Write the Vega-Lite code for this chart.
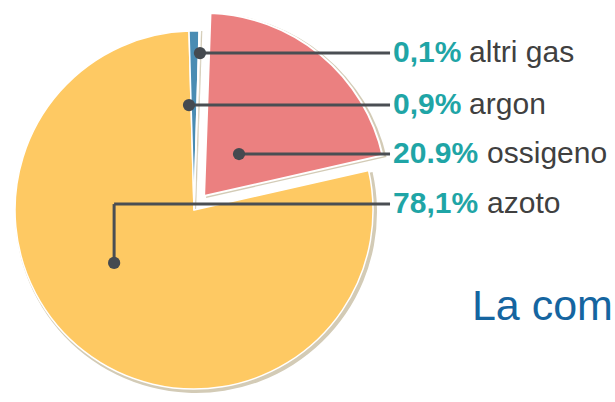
{
  "$schema": "https://vega.github.io/schema/vega-lite/v6.json",
  "width": 615,
  "height": 402,
  "padding": 0,
  "autosize": {"type": "none"},
  "background": "white",
  "config": {"view": {"stroke": null}},
  "datasets": {
    "gas": [
      {"name": "ossigeno", "value": 20.9, "ord": 1},
      {"name": "azoto", "value": 78.1, "ord": 2},
      {"name": "argon", "value": 0.9, "ord": 3},
      {"name": "altri gas", "value": 0.1, "ord": 4}
    ],
    "leaders": [
      {"name": "altri gas", "pct": "0,1%", "px": 3.3, "py": 87.2, "ry": 87.2},
      {"name": "argon", "pct": "0,9%", "px": -2.8, "py": 58.3, "ry": 58.3},
      {"name": "ossigeno", "pct": "20.9%", "px": 25.0, "py": 31.1, "ry": 31.1},
      {"name": "azoto", "pct": "78,1%", "px": -44.4, "py": -29.4, "ry": 3.3}
    ],
    "title": [{"text": "La composizione dell'aria"}]
  },
  "layer": [
    {
      "data": {"name": "gas"},
      "mark": {"type": "arc", "outerRadius": 181, "xOffset": 2, "yOffset": 2, "color": "#d3cbb6"},
      "encoding": {
        "theta": {"field": "value", "type": "quantitative", "stack": true, "scale": {"domain": [0, 100], "range": [0.035, 6.318]}},
        "order": {"field": "ord", "type": "quantitative"},
        "x": {"datum": 0, "type": "quantitative", "scale": {"domain": [-107.8, 233.9], "nice": false, "zero": false}, "axis": null},
        "y": {"datum": 0, "type": "quantitative", "scale": {"domain": [-106.7, 116.7], "nice": false, "zero": false}, "axis": null},
        "opacity": {"condition": {"test": "datum.name === 'ossigeno'", "value": 0}, "value": 1}
      }
    },
    {
      "data": {"name": "gas"},
      "mark": {"type": "arc", "outerRadius": 185, "xOffset": 2, "yOffset": 2, "color": "#d3cbb6"},
      "encoding": {
        "theta": {"field": "value", "type": "quantitative", "stack": true},
        "order": {"field": "ord", "type": "quantitative"},
        "x": {"datum": 5.6, "type": "quantitative"},
        "y": {"datum": 7.8, "type": "quantitative"},
        "opacity": {"condition": {"test": "datum.name === 'ossigeno'", "value": 1}, "value": 0}
      }
    },
    {
      "data": {"name": "gas"},
      "mark": {"type": "arc", "outerRadius": 179, "stroke": "white", "strokeWidth": 1.5},
      "encoding": {
        "theta": {"field": "value", "type": "quantitative", "stack": true},
        "order": {"field": "ord", "type": "quantitative"},
        "x": {"datum": 0, "type": "quantitative"},
        "y": {"datum": 0, "type": "quantitative"},
        "color": {"field": "name", "type": "nominal", "legend": null,
          "scale": {"domain": ["ossigeno", "azoto", "argon", "altri gas"], "range": ["#eb8080", "#fec963", "#4a8cb3", "#c5d66f"]}},
        "opacity": {"condition": {"test": "datum.name === 'ossigeno'", "value": 0}, "value": 1}
      }
    },
    {
      "data": {"name": "gas"},
      "mark": {"type": "arc", "outerRadius": 183, "stroke": "white", "strokeWidth": 2},
      "encoding": {
        "theta": {"field": "value", "type": "quantitative", "stack": true},
        "order": {"field": "ord", "type": "quantitative"},
        "x": {"datum": 5.6, "type": "quantitative"},
        "y": {"datum": 7.8, "type": "quantitative"},
        "color": {"field": "name", "type": "nominal", "legend": null},
        "opacity": {"condition": {"test": "datum.name === 'ossigeno'", "value": 1}, "value": 0}
      }
    },
    {
      "data": {"name": "leaders"},
      "mark": {"type": "rule", "color": "#4a4e53", "strokeWidth": 3},
      "encoding": {
        "x": {"field": "px", "type": "quantitative"},
        "x2": {"datum": 108.9},
        "y": {"field": "ry", "type": "quantitative"}
      }
    },
    {
      "data": {"name": "leaders"},
      "mark": {"type": "rule", "color": "#4a4e53", "strokeWidth": 3},
      "encoding": {
        "x": {"field": "px", "type": "quantitative"},
        "y": {"field": "py", "type": "quantitative"},
        "y2": {"field": "ry"}
      }
    },
    {
      "data": {"name": "leaders"},
      "mark": {"type": "point", "filled": true, "shape": "circle", "size": 150, "color": "#454a50", "opacity": 1},
      "encoding": {
        "x": {"field": "px", "type": "quantitative"},
        "y": {"field": "py", "type": "quantitative"}
      }
    },
    {
      "data": {"name": "leaders"},
      "mark": {"type": "text", "align": "left", "baseline": "middle", "font": "Liberation Sans", "fontSize": 30, "fontWeight": "bold", "color": "#1fa5a6"},
      "encoding": {
        "x": {"datum": 110.6},
        "y": {"field": "ry", "type": "quantitative"},
        "text": {"field": "pct"}
      }
    },
    {
      "data": {"name": "leaders"},
      "transform": [{"filter": "length(datum.pct) === 4"}],
      "mark": {"type": "text", "align": "left", "baseline": "middle", "font": "Liberation Sans", "fontSize": 30, "color": "#404040", "dx": 76},
      "encoding": {
        "x": {"datum": 110.6},
        "y": {"field": "ry", "type": "quantitative"},
        "text": {"field": "name"}
      }
    },
    {
      "data": {"name": "leaders"},
      "transform": [{"filter": "length(datum.pct) === 5"}],
      "mark": {"type": "text", "align": "left", "baseline": "middle", "font": "Liberation Sans", "fontSize": 30, "color": "#404040", "dx": 94},
      "encoding": {
        "x": {"datum": 110.6},
        "y": {"field": "ry", "type": "quantitative"},
        "text": {"field": "name"}
      }
    },
    {
      "data": {"name": "title"},
      "mark": {"type": "text", "align": "left", "baseline": "alphabetic", "font": "Liberation Sans", "fontSize": 43, "color": "#1565a0"},
      "encoding": {
        "x": {"datum": 154.4},
        "y": {"datum": -61.1},
        "text": {"field": "text"}
      }
    }
  ]
}
